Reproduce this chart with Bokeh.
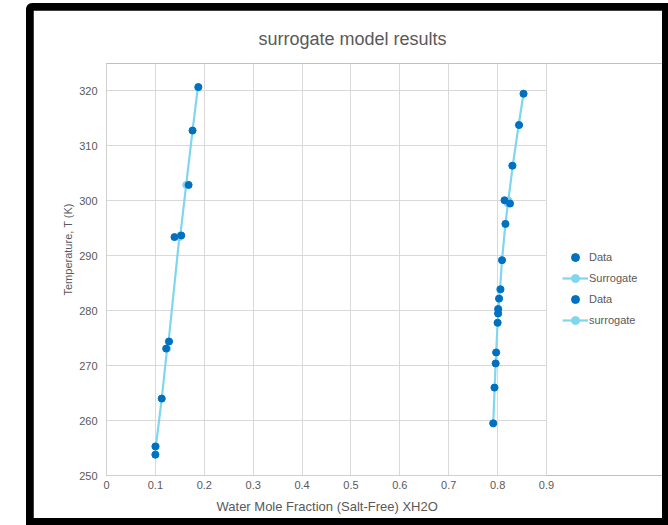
from bokeh.plotting import figure
from bokeh.models import Legend, LegendItem, ColumnDataSource, FixedTicker, Title, BoxAnnotation
from bokeh.layouts import column
from bokeh.embed import file_html
from bokeh.resources import INLINE

# ---- data ----
T_left = [253.8, 255.3, 264.0, 273.1, 274.4, 293.4, 293.7, 302.9, 312.8, 320.7]
x_left_data = [0.100, 0.100, 0.113, 0.122, 0.128, 0.139, 0.153, 0.168, 0.176, 0.188]
x_left_surr = [0.100, 0.101, 0.113, 0.124, 0.127, 0.149, 0.151, 0.163, 0.176, 0.187]

T_right = [259.5, 266.0, 270.4, 272.4, 277.8, 279.5, 280.3, 282.2, 283.9, 289.2,
           295.8, 299.5, 300.1, 306.4, 313.8, 319.5]
x_right_data = [0.791, 0.7935, 0.796, 0.797, 0.800, 0.801, 0.801, 0.803, 0.806, 0.809,
                0.816, 0.8255, 0.814, 0.830, 0.844, 0.853]
x_right_surr = [0.791, 0.794, 0.796, 0.797, 0.800, 0.801, 0.802, 0.803, 0.805, 0.809,
                0.816, 0.821, 0.822, 0.831, 0.843, 0.853]

x_ticks = [0, 0.1, 0.2, 0.3, 0.4, 0.5, 0.6, 0.7, 0.8, 0.9]
y_ticks = [250, 260, 270, 280, 290, 300, 310, 320]
legend_labels = ["Data", "Surrogate", "Data", "surrogate"]

DATA_COLOR = "#0070c0"
SURR_COLOR = "#7fd6ee"
TEXT_COLOR = "#595959"
GRID_COLOR = "#d9d9d9"
FONT = "Liberation Sans"

X_MAX = 0.9
# plot area spans 440 px for 0..0.9; extra room at right holds the legend
FRAME_W, AXIS_W = 556, 440
x_end = X_MAX * FRAME_W / AXIS_W

p = figure(width=629, height=508, x_range=(0, x_end), y_range=(250, 325),
           output_backend="svg", toolbar_location=None,
           min_border_left=73, min_border_right=0, min_border_top=53, min_border_bottom=43)
p.outline_line_color = None
p.outline_line_alpha = 0
p.background_fill_color = "white"
p.border_fill_color = "white"

p.title.text = "surrogate model results"
p.title.text_font = FONT
p.title.text_font_size = "18px"
p.title.text_font_style = "normal"
p.title.text_color = TEXT_COLOR
p.title.align = "left"
p.title.offset = 152
p.title.standoff = 30

for ax in (p.xaxis[0], p.yaxis[0]):
    ax.major_tick_line_color = None
    ax.minor_tick_line_color = None
    ax.major_tick_out = 0
    ax.major_tick_in = 0
    ax.minor_tick_out = 0
    ax.minor_tick_in = 0
    ax.axis_line_color = "#d0d0d0"
    ax.major_label_text_font = FONT
    ax.major_label_text_font_size = "11px"
    ax.major_label_text_color = TEXT_COLOR

p.xaxis.ticker = FixedTicker(ticks=x_ticks)
p.yaxis.ticker = FixedTicker(ticks=y_ticks)
p.xaxis.bounds = (0, X_MAX)
p.xaxis.major_label_overrides = {t: ("0" if t == 0 else f"{t:.1f}") for t in x_ticks}
p.xaxis.major_label_standoff = 5
p.yaxis.major_label_standoff = 9

xlabel = Title(text="Water Mole Fraction (Salt-Free) XH2O", align="left", offset=110,
               standoff=10, text_font=FONT, text_font_size="13px", text_font_style="normal",
               text_color=TEXT_COLOR)
p.add_layout(xlabel, "below")
ylabel = Title(text="Temperature, T (K)", align="left", offset=180,
               standoff=5, text_font=FONT, text_font_size="11px", text_font_style="normal",
               text_color=TEXT_COLOR)
p.add_layout(ylabel, "left")

# horizontal grid lines above the bottom axis line (250 is the axis itself)
p.xgrid.ticker = FixedTicker(ticks=x_ticks[1:])
p.ygrid.ticker = FixedTicker(ticks=y_ticks[1:])
p.xgrid.grid_line_color = GRID_COLOR
p.ygrid.grid_line_color = GRID_COLOR
try:
    p.ygrid.cross_bounds = (0, X_MAX)
except AttributeError:
    p.add_layout(BoxAnnotation(left=X_MAX * 1.0035, fill_color="white", fill_alpha=1,
                               line_color=None, line_alpha=0, line_width=0))

src_l = ColumnDataSource(dict(xd=x_left_data, xs=x_left_surr, T=T_left))
src_r = ColumnDataSource(dict(xd=x_right_data, xs=x_right_surr, T=T_right))

# surrogate series (beneath data markers)
sl_line = p.line("xs", "T", source=src_l, line_color=SURR_COLOR, line_width=2.2)
sl_pts = p.scatter("xs", "T", source=src_l, size=7, fill_color=SURR_COLOR, line_color=SURR_COLOR)
sr_line = p.line("xs", "T", source=src_r, line_color=SURR_COLOR, line_width=2.2)
sr_pts = p.scatter("xs", "T", source=src_r, size=7, fill_color=SURR_COLOR, line_color=SURR_COLOR)

dl = p.scatter("xd", "T", source=src_l, size=7, fill_color=DATA_COLOR, line_color=DATA_COLOR)
dr = p.scatter("xd", "T", source=src_r, size=7, fill_color=DATA_COLOR, line_color=DATA_COLOR)

legend = Legend(items=[
    LegendItem(label=legend_labels[0], renderers=[dl]),
    LegendItem(label=legend_labels[1], renderers=[sl_line, sl_pts]),
    LegendItem(label=legend_labels[2], renderers=[dr]),
    LegendItem(label=legend_labels[3], renderers=[sr_line, sr_pts]),
], location=(456, 145))
legend.border_line_color = None
legend.background_fill_alpha = 0
legend.padding = 0
legend.margin = 0
legend.spacing = 1
legend.glyph_width = 26
legend.glyph_height = 20
legend.label_height = 20
legend.label_standoff = 1
legend.label_text_font = FONT
legend.label_text_font_size = "11px"
legend.label_text_color = TEXT_COLOR
p.add_layout(legend)

layout = column(p, styles={
    "background-color": "black",
    "padding": "7px 6px 7px 7px",
    "margin-left": "26px",
    "margin-top": "3px",
    "border-top-left-radius": "6px",
})

open("out.html", "w").write(file_html(layout, INLINE))
